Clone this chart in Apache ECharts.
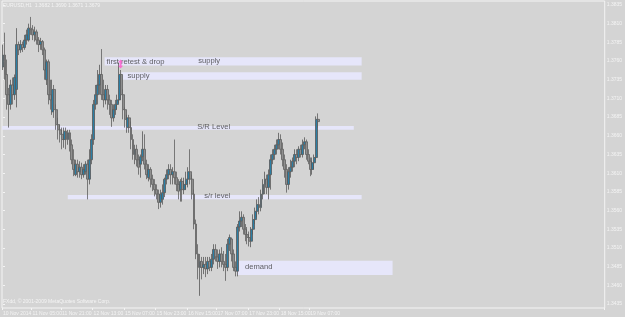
<!DOCTYPE html>
<html><head><meta charset="utf-8">
<script src="https://cdn.jsdelivr.net/npm/echarts@6/dist/echarts.min.js"></script>
<style>html,body{margin:0;padding:0;background:#d4d4d4}#c{width:625px;height:317px}</style>
</head><body><div id="c"></div>
<script>
const headerText = 'EURUSD,H1  1.3682 1.3690 1.3671 1.3679';
const lastPrice = 1.3679;
const copyright = 'FXdd, © 2001-2009 MetaQuotes Software Corp.';
const timeLabels = ['10 Nov 2014','11 Nov 05:00','11 Nov 21:00','12 Nov 13:00','15 Nov 07:00','15 Nov 23:00','16 Nov 15:00','17 Nov 07:00','17 Nov 23:00','18 Nov 15:00','19 Nov 07:00'];
const timeLabelBars = [0,15,30,46,62,78,94,109,125,141,156];
const priceTicks = [1.3435,1.3460,1.3485,1.3510,1.3535,1.3560,1.3585,1.3610,1.3635,1.3660,1.3685,1.3710,1.3735,1.3760,1.3785,1.3810,1.3835];
const slotCount = 306;

const opens = [
1.3752,1.3768,1.3742,1.3715,1.3702,1.3728,1.3715,1.3722,1.3782,1.3775,
1.3782,1.3778,1.3788,1.3788,1.3804,1.3802,1.3795,1.3799,1.3788,1.3782,
1.3786,1.3775,1.3735,1.3759,1.3715,1.3692,1.3722,1.3695,1.3675,1.3668,
1.3662,1.3655,1.3666,1.3655,1.3664,1.3648,1.3628,1.3608,1.3622,1.3612,
1.3618,1.3608,1.3612,1.3622,1.3602,1.3628,1.3655,1.3702,1.3715,1.3728,
1.3742,1.3715,1.3708,1.3722,1.3708,1.3702,1.3684,1.3695,1.3702,1.3708,
1.3742,1.3715,1.3695,1.3671,1.3684,1.3671,1.3655,1.3635,1.3642,1.3628,
1.3622,1.3632,1.3642,1.3622,1.3604,1.3615,1.3602,1.3595,1.3588,1.3582,
1.3571,1.3575,1.3584,1.3602,1.3608,1.3615,1.3608,1.3612,1.3604,1.3595,
1.3588,1.3599,1.3588,1.3595,1.3602,1.3612,1.3602,1.3582,1.3542,1.3502,
1.3484,1.3492,1.3484,1.3488,1.3482,1.3492,1.3484,1.3495,1.3508,1.3498,
1.3492,1.3502,1.3492,1.3488,1.3484,1.3515,1.3522,1.3502,1.3484,1.3479,
1.3538,1.3546,1.3551,1.3535,1.3528,1.3524,1.3519,1.3535,1.3548,1.3559,
1.3568,1.3564,1.3582,1.3595,1.3602,1.3591,1.3608,1.3628,1.3635,1.3642,
1.3648,1.3655,1.3642,1.3628,1.3615,1.3595,1.3612,1.3618,1.3626,1.3635,
1.3631,1.3642,1.3635,1.3648,1.3652,1.3635,1.3626,1.3615,1.3624,1.3631,
1.3682];
const closes = [
1.3768,1.3742,1.3715,1.3702,1.3728,1.3715,1.3738,1.3782,1.3775,1.3782,
1.3778,1.3788,1.3795,1.3804,1.3802,1.3795,1.3799,1.3788,1.3782,1.3786,
1.3775,1.3748,1.3759,1.3715,1.3708,1.3722,1.3695,1.3675,1.3668,1.3662,
1.3655,1.3666,1.3655,1.3664,1.3648,1.3628,1.3615,1.3622,1.3612,1.3618,
1.3608,1.3615,1.3622,1.3602,1.3628,1.3655,1.3702,1.3715,1.3728,1.3742,
1.3715,1.3708,1.3722,1.3708,1.3702,1.3684,1.3695,1.3702,1.3708,1.3742,
1.3715,1.3695,1.3682,1.3684,1.3671,1.3655,1.3635,1.3642,1.3628,1.3618,
1.3632,1.3642,1.3622,1.3608,1.3615,1.3602,1.3595,1.3588,1.3582,1.3571,
1.3582,1.3584,1.3602,1.3608,1.3615,1.3608,1.3612,1.3604,1.3595,1.3586,
1.3599,1.3588,1.3595,1.3602,1.3612,1.3602,1.3582,1.3542,1.3502,1.3484,
1.3492,1.3484,1.3488,1.3482,1.3492,1.3484,1.3495,1.3508,1.3498,1.3492,
1.3502,1.3492,1.3488,1.3484,1.3515,1.3524,1.3502,1.3484,1.3479,1.3538,
1.3546,1.3551,1.3535,1.3528,1.3524,1.3519,1.3535,1.3548,1.3559,1.3568,
1.3564,1.3582,1.3595,1.3602,1.3591,1.3608,1.3628,1.3635,1.3642,1.3648,
1.3655,1.3642,1.3628,1.3615,1.3595,1.3612,1.3618,1.3626,1.3635,1.3631,
1.3642,1.3635,1.3648,1.3652,1.3635,1.3626,1.3615,1.3624,1.3631,1.3682,
1.3679];
const lows = [
1.3748,1.3735,1.3695,1.3671,1.3695,1.3702,1.3708,1.3698,1.3768,1.3771,
1.3772,1.3775,1.3782,1.3786,1.3795,1.3788,1.3786,1.3782,1.3772,1.3775,
1.3768,1.3735,1.3728,1.3702,1.3695,1.3688,1.3684,1.3668,1.3655,1.3651,
1.3642,1.3644,1.3642,1.3648,1.3639,1.3622,1.3606,1.3606,1.3604,1.3604,
1.3602,1.3604,1.3608,1.3575,1.3595,1.3622,1.3648,1.3695,1.3702,1.3715,
1.3708,1.3698,1.3702,1.3695,1.3688,1.3672,1.3679,1.3688,1.3695,1.3704,
1.3708,1.3682,1.3671,1.3664,1.3664,1.3642,1.3628,1.3622,1.3619,1.3608,
1.3604,1.3626,1.3615,1.3602,1.3599,1.3591,1.3586,1.3579,1.3575,1.3562,
1.3564,1.3568,1.3578,1.3595,1.3602,1.3595,1.3595,1.3595,1.3586,1.3575,
1.3572,1.3572,1.3582,1.3588,1.3591,1.3595,1.3575,1.3535,1.3495,1.3468,
1.3446,1.3468,1.3475,1.3471,1.3475,1.3479,1.3479,1.3488,1.3492,1.3482,
1.3484,1.3484,1.3479,1.3466,1.3479,1.3506,1.3492,1.3479,1.3472,1.3472,
1.3532,1.3538,1.3528,1.3519,1.3515,1.3512,1.3511,1.3528,1.3542,1.3551,
1.3555,1.3559,1.3575,1.3582,1.3582,1.3575,1.3588,1.3622,1.3628,1.3635,
1.3642,1.3635,1.3619,1.3604,1.3584,1.3588,1.3604,1.3612,1.3618,1.3622,
1.3626,1.3631,1.3631,1.3642,1.3628,1.3622,1.3606,1.3608,1.3615,1.3628,
1.3671];
const highs = [
1.3782,1.3798,1.3762,1.3724,1.3735,1.3738,1.3742,1.3804,1.3786,1.3788,
1.3786,1.3795,1.3802,1.3810,1.3819,1.3808,1.3806,1.3802,1.3792,1.3791,
1.3788,1.3778,1.3762,1.3762,1.3735,1.3735,1.3728,1.3702,1.3684,1.3675,
1.3671,1.3671,1.3671,1.3668,1.3668,1.3655,1.3642,1.3628,1.3628,1.3626,
1.3624,1.3622,1.3626,1.3628,1.3642,1.3662,1.3708,1.3728,1.3748,1.3755,
1.3776,1.3735,1.3728,1.3728,1.3715,1.3708,1.3702,1.3708,1.3715,1.3758,
1.3748,1.3722,1.3698,1.3688,1.3688,1.3679,1.3662,1.3648,1.3648,1.3635,
1.3635,1.3666,1.3662,1.3628,1.3622,1.3618,1.3608,1.3602,1.3595,1.3588,
1.3588,1.3595,1.3604,1.3615,1.3622,1.3622,1.3618,1.3655,1.3612,1.3602,
1.3602,1.3604,1.3604,1.3612,1.3618,1.3642,1.3608,1.3588,1.3548,1.3515,
1.3502,1.3498,1.3498,1.3498,1.3498,1.3498,1.3502,1.3515,1.3515,1.3508,
1.3508,1.3511,1.3506,1.3502,1.3522,1.3528,1.3524,1.3508,1.3492,1.3542,
1.3559,1.3559,1.3555,1.3542,1.3538,1.3532,1.3538,1.3555,1.3564,1.3575,
1.3578,1.3588,1.3602,1.3612,1.3608,1.3615,1.3635,1.3642,1.3648,1.3655,
1.3664,1.3662,1.3651,1.3635,1.3622,1.3618,1.3628,1.3631,1.3642,1.3642,
1.3646,1.3648,1.3655,1.3658,1.3655,1.3642,1.3631,1.3631,1.3635,1.3686,
1.3690];

// annotation rectangles (bar index, price)
const zoneStart  = [51.6, 60.2, -0.5, 32.9, 118.7];
const zoneEnd    = [182.1, 182.1, 178.1, 182.1, 197.8];
const zoneTop    = [1.3765, 1.3745, 1.3673, 1.3581, 1.3493];
const zoneBottom = [1.3754, 1.3735, 1.3668, 1.3575, 1.3474];
// annotation texts (bar index, price)
const noteTexts  = ['first retest & drop', 'supply', 'supply', 'S/R Level', 's/r level', 'demand'];
const noteBars   = [52.6, 99.1, 63.2, 98.6, 102.2, 122.9];
const notePrices = [1.3759, 1.3760, 1.3740, 1.3672, 1.3579, 1.3485];
const arrowBar = 59.7, arrowPrice = 1.3756;

const categories = [];
for (let i = 0; i < slotCount; i++) categories.push(String(i));
const ohlc = opens.map((o, i) => [o, closes[i], lows[i], highs[i]]);

const zonesData = zoneStart.map((s, i) => [
  { coord: [s, zoneTop[i]] },
  { coord: [zoneEnd[i], zoneBottom[i]] }
]);
const notesData = noteTexts.map((t, i) => ({ value: [noteBars[i], notePrices[i]], label: { formatter: t } }));

const chart = echarts.init(document.getElementById('c'), null, { renderer: 'canvas' });
const lightTxt = '#f4f4f4';
chart.setOption({
  animation: false,
  backgroundColor: '#d4d4d4',
  textStyle: { fontFamily: 'Liberation Sans' },
  grid: { left: 2, top: 1, width: 605, height: 307, show: true, borderColor: '#f4f4f4', borderWidth: 1, backgroundColor: 'transparent' },
  xAxis: [{
    type: 'category', data: categories, boundaryGap: true,
    axisLine: { show: false },
    axisTick: { show: true, length: 2, lineStyle: { color: lightTxt }, interval: (idx) => timeLabelBars.indexOf(idx) >= 0 },
    axisLabel: {
      interval: (idx) => timeLabelBars.indexOf(idx) >= 0,
      formatter: (v, idx) => { const k = timeLabelBars.indexOf(Number(v)); return k >= 0 ? timeLabels[k] : ''; },
      color: lightTxt, fontSize: 5, align: 'left', margin: 3
    },
    splitLine: { show: false }
  }, {
    type: 'value', min: -0.5, max: slotCount - 0.5, show: false
  }],
  yAxis: {
    type: 'value', position: 'right', min: 1.34297, max: 1.38403, scale: true,
    splitLine: { show: false }, axisLine: { show: false },
    axisTick: { show: true, length: 2, lineStyle: { color: lightTxt }, customValues: priceTicks },
    axisLabel: { customValues: priceTicks, formatter: (v) => v.toFixed(4), color: lightTxt, fontSize: 5, margin: 2 }
  },
  graphic: [
    { type: 'text', left: 3, top: 3, style: { text: headerText, fill: lightTxt, font: '5px "Liberation Sans"' } },
    { type: 'text', left: 3, top: 299, style: { text: copyright, fill: lightTxt, font: '5px "Liberation Sans"' } }
  ],
  series: [{
    name: 'zones', type: 'scatter', xAxisIndex: 1, z: 1, data: [], symbolSize: 0,
    markArea: { silent: true, itemStyle: { color: '#e6e6fa', opacity: 1 }, data: zonesData }
  }, {
    name: 'EURUSD', type: 'candlestick', xAxisIndex: 0, z: 2, data: ohlc, barWidth: 2.4,
    itemStyle: { color: '#2b7fa5', color0: '#8f8f8f', borderColor: '#585858', borderColor0: '#606060', borderWidth: 0.8 },
    markLine: {
      silent: true, symbol: 'none', animation: false,
      lineStyle: { opacity: 0 },
      label: { position: 'end', formatter: lastPrice.toFixed(4), backgroundColor: '#ffffff', color: '#9a9a9a', fontSize: 5, padding: [1, 2], distance: 1 },
      data: [{ yAxis: lastPrice }]
    }
  }, {
    name: 'notes', type: 'scatter', xAxisIndex: 1, z: 3, symbolSize: 0, data: notesData,
    label: { show: true, position: 'right', distance: 0, color: '#3a3a3a', fontSize: 7.6, fontFamily: 'Liberation Sans' }
  }, {
    name: 'arrow', type: 'scatter', xAxisIndex: 1, z: 4,
    symbol: 'path://M5,0 L10,6 L7,6 L7,14 L10,14 L5,20 L0,14 L3,14 L3,6 L0,6 Z',
    symbolSize: [5, 9], itemStyle: { color: '#ff55cc' },
    data: [[arrowBar, arrowPrice]]
  }]
});
</script></body></html>
